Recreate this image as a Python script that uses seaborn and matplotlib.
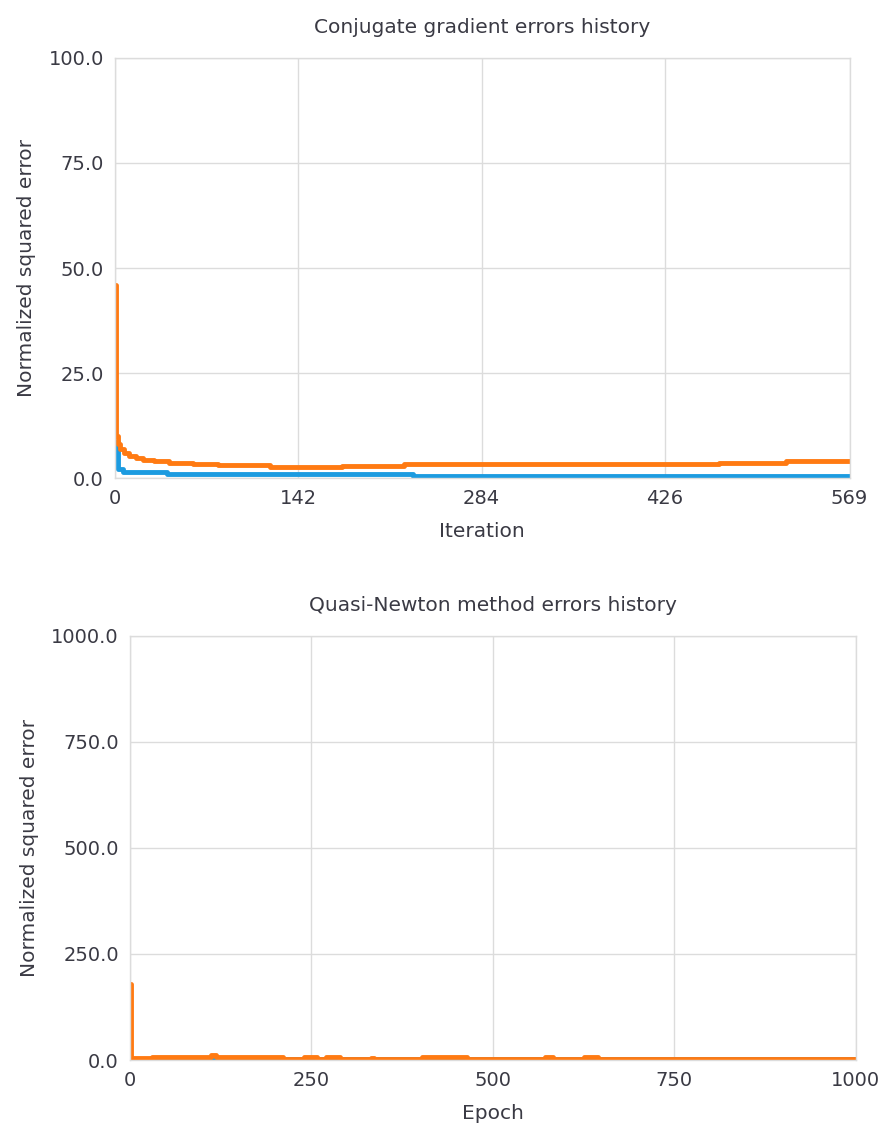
import matplotlib
matplotlib.use("Agg")
import matplotlib.pyplot as plt
import seaborn as sns
import pandas as pd

# === Data (step breakpoints) ===
# Conjugate gradient, x = iteration
cg_train_x = [0, 1, 2, 4, 7, 11, 16, 22, 30, 42, 60, 80, 120, 176, 224, 468, 520, 569]
cg_train_y = [46.0, 10.0, 8.0, 7.0, 6.0, 5.3, 4.8, 4.4, 4.0, 3.6, 3.3, 3.0, 2.6, 2.9, 3.3, 3.7, 4.0, 4.0]
cg_sel_x = [0, 2, 6, 40, 231, 569]
cg_sel_y = [8.6, 2.1, 1.5, 1.0, 0.5, 0.5]

# Quasi-Newton, x = epoch
qn_train_x = [0, 1, 30, 112, 118, 211, 240, 258, 270, 289, 332, 336, 402, 464, 572, 583, 626, 645, 1000]
qn_train_y = [180.0, 5.0, 8.0, 12.0, 8.0, 3.0, 6.0, 3.0, 8.0, 3.0, 5.0, 3.0, 8.0, 3.0, 7.0, 3.0, 8.0, 3.0, 3.0]
qn_sel_x = [0, 1, 40, 211, 272, 290, 402, 464, 1000]
qn_sel_y = [5.0, 2.0, 0.5, 2.0, 0.5, 2.0, 0.5, 2.0, 2.0]

cg_xticks = [0, 142, 284, 426, 569]
cg_yticks = [0, 25, 50, 75, 100]
qn_xticks = [0, 250, 500, 750, 1000]
qn_yticks = [0, 250, 500, 750, 1000]

ORANGE = "#ff7a12"
BLUE = "#1c9be0"
GRID = "#dcdcdc"
TEXT = "#3a3a44"

sns.set_theme(style="white")
plt.rcParams["font.family"] = ["DejaVu Sans"]
plt.rcParams["text.color"] = TEXT
plt.rcParams["axes.labelcolor"] = TEXT
plt.rcParams["xtick.color"] = GRID
plt.rcParams["ytick.color"] = GRID
plt.rcParams["xtick.labelcolor"] = TEXT
plt.rcParams["ytick.labelcolor"] = TEXT

fig = plt.figure(figsize=(8.85, 11.32), dpi=100)
ax1 = fig.add_axes([0.130, 0.5777, 0.830, 0.3711])
ax2 = fig.add_axes([0.1469, 0.0636, 0.8201, 0.3746])


def draw(ax, sel_x, sel_y, tr_x, tr_y, xticks, yticks, title, xlabel):
    sel = pd.DataFrame({"x": sel_x, "y": sel_y})
    tr = pd.DataFrame({"x": tr_x, "y": tr_y})
    sns.lineplot(data=sel, x="x", y="y", ax=ax, color=BLUE, linewidth=3.5,
                 drawstyle="steps-post", sort=False)
    sns.lineplot(data=tr, x="x", y="y", ax=ax, color=ORANGE, linewidth=3.5,
                 drawstyle="steps-post", sort=False)
    ax.set_xlim(xticks[0], xticks[-1])
    ax.set_ylim(yticks[0], yticks[-1])
    ax.set_xticks(xticks)
    ax.set_yticks(yticks)
    ax.set_yticklabels([f"{v:.1f}" for v in yticks])
    ax.grid(True, color=GRID, linewidth=1)
    ax.set_axisbelow(True)
    for s in ax.spines.values():
        s.set_color(GRID)
        s.set_linewidth(1)
    ax.tick_params(length=5, width=1, labelsize=14, pad=3)
    ax.set_title(title, fontsize=14.5, pad=18)
    ax.set_xlabel(xlabel, fontsize=14.5, labelpad=10)
    ax.set_ylabel("Normalized squared error", fontsize=14.5, labelpad=9)


draw(ax1, cg_sel_x, cg_sel_y, cg_train_x, cg_train_y, cg_xticks, cg_yticks,
     "Conjugate gradient errors history", "Iteration")
draw(ax2, qn_sel_x, qn_sel_y, qn_train_x, qn_train_y, qn_xticks, qn_yticks,
     "Quasi-Newton method errors history", "Epoch")

fig.savefig("out.png", dpi=100)
